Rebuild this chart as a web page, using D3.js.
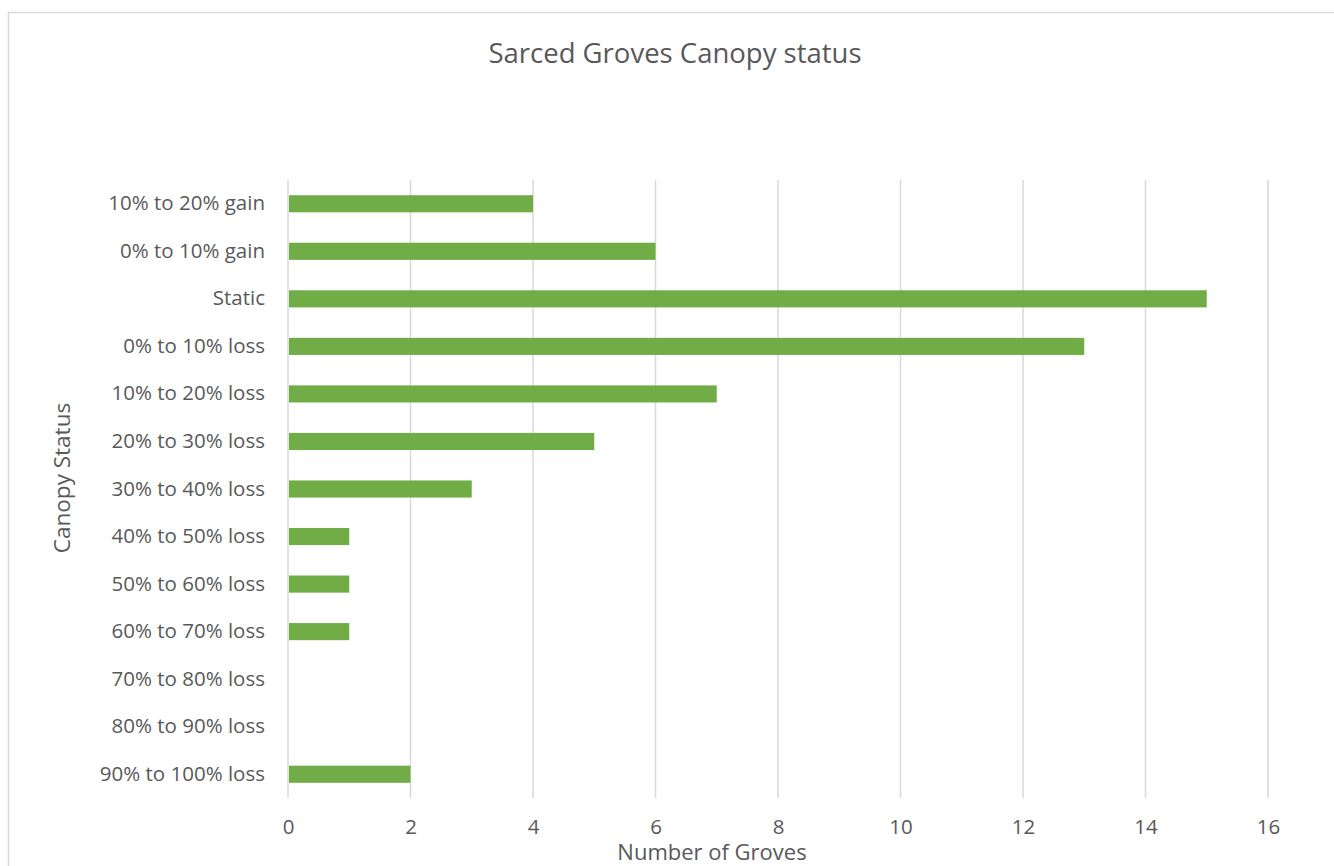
<!DOCTYPE html>
<html><head><meta charset="utf-8">
<script src="https://cdn.jsdelivr.net/npm/d3@7"></script>
<style>body{margin:0;background:#fff}svg{display:block}</style>
</head><body>
<svg id="c" width="1334" height="866"></svg>
<script>
const categories = ["10% to 20% gain","0% to 10% gain","Static","0% to 10% loss","10% to 20% loss","20% to 30% loss","30% to 40% loss","40% to 50% loss","50% to 60% loss","60% to 70% loss","70% to 80% loss","80% to 90% loss","90% to 100% loss"];
const values = [4,6,15,13,7,5,3,1,1,1,0,0,2];
const xTicks = [0,2,4,6,8,10,12,14,16];
const title = "Sarced Groves Canopy status";
const xTitle = "Number of Groves";
const yTitle = "Canopy Status";

const svg = d3.select("#c");
const font = "'Open Sans', sans-serif";
const txt = "#595959";
svg.append("rect").attr("x",8.5).attr("y",12.5).attr("width",1340).attr("height",900)
  .attr("fill","#fff").attr("stroke","#d9d9d9").attr("stroke-width",1.5);

const m = {left:288, right:1268, top:180, bottom:798};
const x = d3.scaleLinear().domain([0,16]).range([m.left,m.right]);
const y = d3.scaleBand().domain(categories).range([m.top,m.bottom]).paddingInner(0.64).paddingOuter(0.32);

svg.append("g").selectAll("line").data(xTicks).join("line")
  .attr("x1",d=>x(d)).attr("x2",d=>x(d)).attr("y1",m.top).attr("y2",m.bottom)
  .attr("stroke","#d9d9d9").attr("stroke-width",1.5);

svg.append("g").selectAll("rect").data(values).join("rect")
  .attr("x",x(0)+1).attr("y",(d,i)=>y(categories[i]))
  .attr("width",d=>Math.max(0,x(d)-x(0)-1)).attr("height",y.bandwidth())
  .attr("fill","#70ad47");

const xa = svg.append("g").attr("transform",`translate(0,${m.bottom})`)
  .call(d3.axisBottom(x).tickValues(xTicks).tickSize(0).tickPadding(21));
xa.select(".domain").remove();
xa.selectAll("text").attr("font-family",font).attr("font-size",20.5).attr("fill",txt);

const ya = svg.append("g").attr("transform",`translate(${m.left},0)`)
  .call(d3.axisLeft(y).tickSize(0).tickPadding(23));
ya.select(".domain").remove();
ya.selectAll("text").attr("font-family",font).attr("font-size",20.5).attr("fill",txt);

svg.append("text").attr("x",675).attr("y",63).attr("text-anchor","middle")
  .attr("font-family",font).attr("font-size",27.5).attr("fill",txt).text(title);
svg.append("text").attr("x",712).attr("y",860).attr("text-anchor","middle")
  .attr("font-family",font).attr("font-size",22).attr("fill",txt).text(xTitle);
svg.append("text").attr("transform","translate(70,478) rotate(-90)").attr("text-anchor","middle")
  .attr("font-family",font).attr("font-size",22.5).attr("fill",txt).text(yTitle);
</script>
</body></html>
